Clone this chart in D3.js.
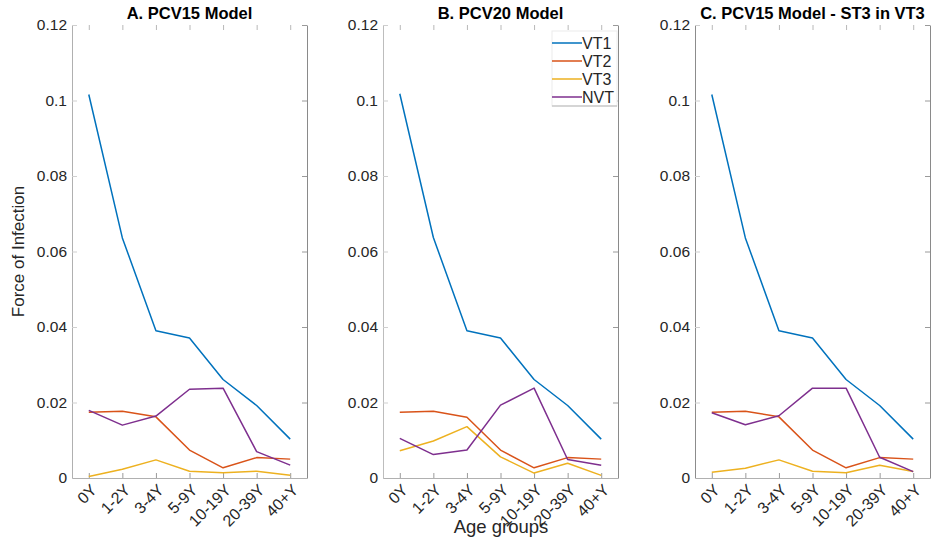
<!DOCTYPE html>
<html>
<head>
<meta charset="utf-8">
<script src="https://cdn.jsdelivr.net/npm/d3@7/dist/d3.min.js"></script>
<style>
  html, body { margin: 0; padding: 0; background: #fff; }
  svg { display: block; font-family: "Liberation Sans", Arial, Helvetica, sans-serif; }
</style>
</head>
<body>
<svg id="chart" width="931" height="539"></svg>
<script>
// Age groups on the x axis
const ageGroups = ["0Y", "1-2Y", "3-4Y", "5-9Y", "10-19Y", "20-39Y", "40+Y"];

// Serotype groups and their line colours
const seriesNames = ["VT1", "VT2", "VT3", "NVT"];
const seriesColors = ["#0072BD", "#D95319", "#EDB120", "#7E2F8E"];

// Panel titles
const panelTitles = ["A. PCV15 Model", "B. PCV20 Model", "C. PCV15 Model - ST3 in VT3"];

// Y axis ticks
const yTicks = [0, 0.02, 0.04, 0.06, 0.08, 0.1, 0.12];
const yTickLabels = ["0", "0.02", "0.04", "0.06", "0.08", "0.1", "0.12"];

// Force of infection by age group — A. PCV15 model
const vt1A = [0.1016, 0.0636, 0.0390, 0.0371, 0.0261, 0.0192, 0.0103];
const vt2A = [0.0174, 0.0177, 0.0162, 0.0074, 0.0027, 0.0054, 0.0050];
const vt3A = [0.0004, 0.0023, 0.0048, 0.0018, 0.0014, 0.0018, 0.0007];
const nvtA = [0.0179, 0.0140, 0.0164, 0.0235, 0.0238, 0.0070, 0.0034];

// B. PCV20 model
const vt1B = [0.1018, 0.0637, 0.0390, 0.0371, 0.0261, 0.0192, 0.0103];
const vt2B = [0.0174, 0.0177, 0.0161, 0.0074, 0.0027, 0.0054, 0.0050];
const vt3B = [0.0072, 0.0098, 0.0136, 0.0056, 0.0013, 0.0039, 0.0007];
const nvtB = [0.0105, 0.0062, 0.0074, 0.0193, 0.0238, 0.0049, 0.0034];

// C. PCV15 model with ST3 moved into VT3
const vt1C = [0.1016, 0.0636, 0.0390, 0.0371, 0.0261, 0.0192, 0.0103];
const vt2C = [0.0174, 0.0177, 0.0162, 0.0074, 0.0027, 0.0054, 0.0050];
const vt3C = [0.0015, 0.0026, 0.0048, 0.0018, 0.0014, 0.0034, 0.0017];
const nvtC = [0.0173, 0.0141, 0.0165, 0.0238, 0.0238, 0.0055, 0.0017];

const panels = [
  { title: panelTitles[0], series: [vt1A, vt2A, vt3A, nvtA] },
  { title: panelTitles[1], series: [vt1B, vt2B, vt3B, nvtB], legend: true },
  { title: panelTitles[2], series: [vt1C, vt2C, vt3C, nvtC] }
];

const svg = d3.select("#chart");
const panelLefts = [72, 383, 695];
const panelWidth = 235;
const plotTop = 25, plotBottom = 478;
const leftEdgeColors = ["#b0b0b0", "#bdbdbd", "#8c8c8c"];

const y = d3.scaleLinear().domain([0, 0.12]).range([plotBottom, plotTop]);

panels.forEach((p, i) => {
  const left = panelLefts[i];
  const right = left + panelWidth;
  const x = d3.scalePoint().domain(ageGroups).range([left, right]).padding(0.5);
  const g = svg.append("g");

  // box edges and ticks
  const leftAxis = g.append("g")
    .attr("transform", `translate(${left},0)`)
    .call(d3.axisLeft(y).tickValues(yTicks).tickFormat((d, k) => yTickLabels[k])
      .tickSizeInner(-5).tickSizeOuter(0).tickPadding(5));
  leftAxis.select(".domain").attr("stroke", leftEdgeColors[i]);
  leftAxis.selectAll(".tick line").attr("stroke", "#cfcfcf");
  leftAxis.selectAll(".tick text")
    .attr("fill", "#262626").style("font-size", "15.5px").style("font-family", "inherit");

  const rightAxis = g.append("g")
    .attr("transform", `translate(${right},0)`)
    .call(d3.axisRight(y).tickValues(yTicks).tickFormat("").tickSizeInner(-5).tickSizeOuter(0));
  rightAxis.select(".domain").attr("stroke", "#8a8a8a");
  rightAxis.selectAll(".tick line").attr("stroke", "#9a9a9a");

  const bottomAxis = g.append("g")
    .attr("transform", `translate(0,${plotBottom})`)
    .call(d3.axisBottom(x).tickSizeInner(-5).tickSizeOuter(0).tickFormat(""));
  bottomAxis.select(".domain").attr("stroke", "#b0b0b0");
  bottomAxis.selectAll(".tick line").attr("stroke", "#9a9a9a");

  const topAxis = g.append("g")
    .attr("transform", `translate(0,${plotTop})`)
    .call(d3.axisTop(x).tickSizeInner(-5).tickSizeOuter(0).tickFormat(""));
  topAxis.select(".domain").attr("stroke", "none");
  topAxis.selectAll(".tick line").attr("stroke", "#b8b8b8");

  // rotated age-group labels
  g.selectAll("text.xlab").data(ageGroups).join("text")
    .attr("class", "xlab")
    .attr("transform", d => `translate(${x(d) + 5},${plotBottom + 9}) rotate(-45)`)
    .attr("text-anchor", "end")
    .attr("dy", "0.35em")
    .attr("fill", "#262626")
    .style("font-size", "16px")
    .text(d => d);

  // series lines
  const line = d3.line().x((d, k) => x(ageGroups[k])).y(d => y(d));
  p.series.forEach((vals, s) => {
    g.append("path")
      .datum(vals)
      .attr("d", line)
      .attr("fill", "none")
      .attr("stroke", seriesColors[s])
      .attr("stroke-width", 1.5)
      .attr("stroke-linejoin", "round");
  });

  // title
  g.append("text")
    .attr("x", (left + right) / 2)
    .attr("y", 19)
    .attr("text-anchor", "middle")
    .attr("font-weight", "bold")
    .attr("fill", "#000")
    .style("font-size", "16.5px")
    .text(p.title);

  if (p.legend) {
    const lg = g.append("g");
    const lx = 552, lw = 65, ly = 31, rowH = 18;
    lg.append("rect")
      .attr("x", lx).attr("y", ly).attr("width", lw).attr("height", 75)
      .attr("fill", "#fff").attr("stroke", "#ececec").attr("stroke-width", 1);
    lg.append("line")
      .attr("x1", lx).attr("x2", lx + lw).attr("y1", ly + 75).attr("y2", ly + 75)
      .attr("stroke", "#b5b5b5");
    seriesNames.forEach((name, s) => {
      const yy = 43 + s * rowH;
      lg.append("line")
        .attr("x1", lx).attr("x2", lx + 30).attr("y1", yy).attr("y2", yy)
        .attr("stroke", seriesColors[s]).attr("stroke-width", 1.5);
      lg.append("text")
        .attr("x", lx + 30).attr("y", yy).attr("dy", "0.35em")
        .attr("fill", "#262626").style("font-size", "16px")
        .text(name);
    });
  }
});

// shared axis labels
svg.append("text")
  .attr("transform", `translate(24,${(plotTop + plotBottom) / 2}) rotate(-90)`)
  .attr("text-anchor", "middle")
  .attr("fill", "#262626")
  .style("font-size", "17px")
  .text("Force of Infection");

svg.append("text")
  .attr("x", 501)
  .attr("y", 533)
  .attr("text-anchor", "middle")
  .attr("fill", "#262626")
  .style("font-size", "18.5px")
  .text("Age groups");
</script>
</body>
</html>
